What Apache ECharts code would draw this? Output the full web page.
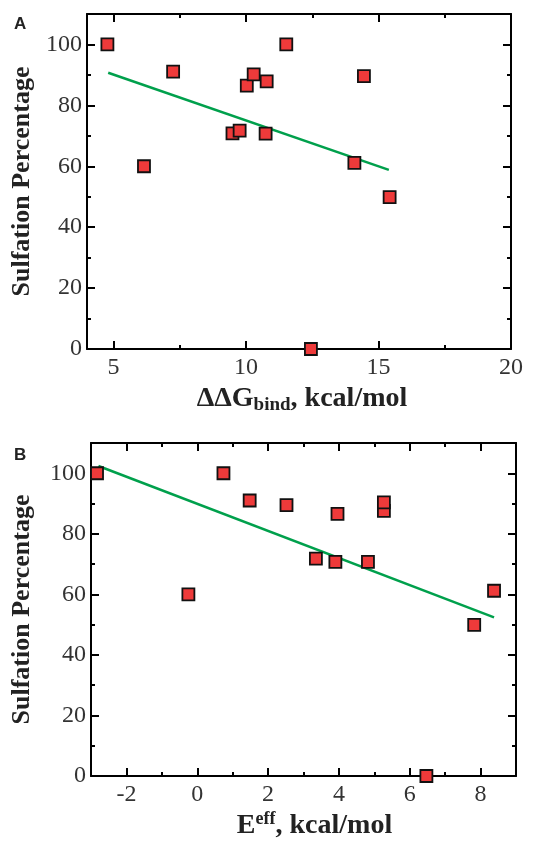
<!DOCTYPE html>
<html>
<head>
<meta charset="utf-8">
<script src="https://cdn.jsdelivr.net/npm/echarts@6/dist/echarts.min.js"></script>
<style>html,body{margin:0;padding:0;background:#fff;}#c{width:551px;height:841px;}</style>
</head>
<body>
<div id="c"></div>
<script>
// Panel A data
const dgBind = [4.77, 6.15, 7.25, 9.49, 9.76, 10.03, 10.29, 10.74, 10.78, 11.52, 12.45, 14.09, 14.45, 15.42];
const sulfA  = [100, 60, 91.1, 70.8, 71.7, 86.5, 90.2, 70.7, 87.9, 100, 0, 61.1, 89.6, 49.9];
const fitAx  = [4.8, 15.39];
const fitAy  = [90.7, 58.8];
const ticksAxMajor = [5, 10, 15, 20];
const ticksAxMinor = [7.5, 12.5, 17.5];

// Panel B data
const eEff  = [-2.83, -0.25, 0.74, 1.48, 2.52, 3.35, 3.90, 3.96, 4.82, 5.27, 5.27, 8.38, 7.82, 6.47];
const sulfB = [100, 60, 100, 91.0, 89.5, 71.8, 70.7, 86.6, 70.7, 87.6, 90.4, 61.2, 49.9, 0];
const fitBx = [-2.79, 8.38];
const fitBy = [102.4, 52.4];
const ticksBxMajor = [-2, 0, 2, 4, 6, 8];
const ticksBxMinor = [-1, 1, 3, 5, 7];

// shared y ticks
const ticksYMajor = [0, 20, 40, 60, 80, 100];
const ticksYMinor = [10, 30, 50, 70, 90];

const SERIF = "'Liberation Serif', 'DejaVu Serif', serif";
const lineSt = {color: '#000', width: 2};

function xAxes(g, min, max, major, minor, name, rich, padLeft) {
  const base = {gridIndex: g, type: 'value', min: min, max: max, splitLine: {show: false}};
  return [
    Object.assign({}, base, {
      position: 'bottom',
      axisLine: {show: true, onZero: false, lineStyle: lineSt},
      axisTick: {show: true, inside: true, length: 8, lineStyle: lineSt, customValues: major},
      axisLabel: {show: true, customValues: major, fontFamily: SERIF, fontSize: 24, color: '#333', margin: 7},
      name: name, nameLocation: 'middle', nameGap: 34,
      nameTextStyle: {rich: rich, padding: [0, 0, 0, padLeft]}
    }),
    Object.assign({}, base, {
      position: 'top',
      axisLine: {show: true, onZero: false, lineStyle: lineSt},
      axisTick: {show: true, inside: true, length: 8, lineStyle: lineSt, customValues: major},
      axisLabel: {show: false}
    }),
    Object.assign({}, base, {
      position: 'bottom',
      axisLine: {show: false, onZero: false},
      axisTick: {show: true, inside: true, length: 4, lineStyle: lineSt, customValues: minor},
      axisLabel: {show: false}
    }),
    Object.assign({}, base, {
      position: 'top',
      axisLine: {show: false, onZero: false},
      axisTick: {show: true, inside: true, length: 4, lineStyle: lineSt, customValues: minor},
      axisLabel: {show: false}
    })
  ];
}

function yAxes(g, gap) {
  const base = {gridIndex: g, type: 'value', min: 0, max: 110, splitLine: {show: false}};
  return [
    Object.assign({}, base, {
      position: 'left',
      axisLine: {show: true, onZero: false, lineStyle: lineSt},
      axisTick: {show: true, inside: true, length: 8, lineStyle: lineSt, customValues: ticksYMajor},
      axisLabel: {show: true, customValues: ticksYMajor, fontFamily: SERIF, fontSize: 24, color: '#333', margin: 5},
      name: 'Sulfation Percentage', nameLocation: 'middle', nameGap: gap, nameRotate: 90,
      nameTextStyle: {fontFamily: SERIF, fontWeight: 'bold', fontSize: 26, color: '#222'}
    }),
    Object.assign({}, base, {
      position: 'right',
      axisLine: {show: true, onZero: false, lineStyle: lineSt},
      axisTick: {show: true, inside: true, length: 8, lineStyle: lineSt, customValues: ticksYMajor},
      axisLabel: {show: false}
    }),
    Object.assign({}, base, {
      position: 'left',
      axisLine: {show: false, onZero: false},
      axisTick: {show: true, inside: true, length: 4, lineStyle: lineSt, customValues: ticksYMinor},
      axisLabel: {show: false}
    }),
    Object.assign({}, base, {
      position: 'right',
      axisLine: {show: false, onZero: false},
      axisTick: {show: true, inside: true, length: 4, lineStyle: lineSt, customValues: ticksYMinor},
      axisLabel: {show: false}
    })
  ];
}

const richA = {
  m: {fontFamily: SERIF, fontWeight: 'bold', fontSize: 28, color: '#222', lineHeight: 32},
  sub: {fontFamily: SERIF, fontWeight: 'bold', fontSize: 19, color: '#222', lineHeight: 19, verticalAlign: 'bottom'}
};
const richB = {
  m: {fontFamily: SERIF, fontWeight: 'bold', fontSize: 28, color: '#222', lineHeight: 32},
  sup: {fontFamily: SERIF, fontWeight: 'bold', fontSize: 18, color: '#222', lineHeight: 12, verticalAlign: 'top'}
};

const zip = (a, b) => a.map((v, i) => [v, b[i]]);

const scatterStyle = {color: '#ee3a3a', borderColor: '#111', borderWidth: 1.8, opacity: 1};
const fitStyle = {color: '#00a04c', width: 2.5};

const chart = echarts.init(document.getElementById('c'), null, {renderer: 'canvas'});
chart.setOption({
  animation: false,
  backgroundColor: '#fff',
  grid: [
    {left: 87, top: 14, width: 424, height: 335},
    {left: 91, top: 443, width: 425, height: 336}
  ],
  xAxis: [].concat(
    xAxes(0, 4, 20, ticksAxMajor, ticksAxMinor, '{m|ΔΔG}{sub|bind}{m|, kcal/mol}', richA, 6),
    xAxes(1, -3, 9, ticksBxMajor, ticksBxMinor, '{m|E}{sup|eff}{m|, kcal/mol}', richB, 22)
  ),
  yAxis: [].concat(yAxes(0, 51), yAxes(1, 56)),
  graphic: [
    {type: 'text', left: 14, top: 16, style: {text: 'A', font: "bold 17px 'Liberation Sans', Arial, sans-serif", fill: '#222'}},
    {type: 'text', left: 14, top: 447, style: {text: 'B', font: "bold 17px 'Liberation Sans', Arial, sans-serif", fill: '#222'}}
  ],
  series: [
    {type: 'line', xAxisIndex: 0, yAxisIndex: 0, data: zip(fitAx, fitAy), showSymbol: false, lineStyle: fitStyle, z: 2},
    {type: 'scatter', xAxisIndex: 0, yAxisIndex: 0, data: zip(dgBind, sulfA), symbol: 'rect', symbolSize: 12, itemStyle: scatterStyle, clip: false, z: 3},
    {type: 'line', xAxisIndex: 4, yAxisIndex: 4, data: zip(fitBx, fitBy), showSymbol: false, lineStyle: fitStyle, z: 2},
    {type: 'scatter', xAxisIndex: 4, yAxisIndex: 4, data: zip(eEff, sulfB), symbol: 'rect', symbolSize: 12, itemStyle: scatterStyle, clip: false, z: 3}
  ]
});
</script>
</body>
</html>
